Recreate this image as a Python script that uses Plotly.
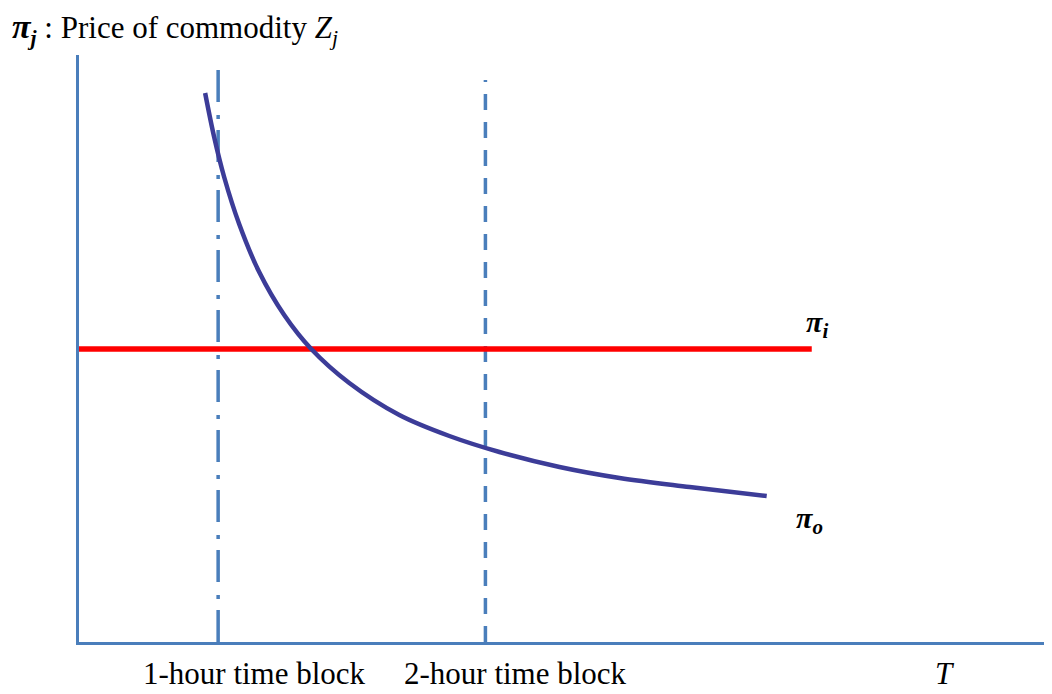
import plotly.graph_objects as go

# Axis units: x from 0 to 972, y from 0 to 587 (arbitrary time / price units)
X_MAX = 972
Y_MAX = 587

curve_x = [126, 135, 145, 160, 180, 205, 232, 270, 320, 370, 420, 480, 540, 610, 687]
curve_y = [549, 505, 465, 418, 370, 327, 293, 259, 227, 206, 190, 175, 164, 155, 146]

pi_i_x = [0, 732]
pi_i_y = [293, 293]

block1_x = 139
block1_top = 574
block2_x = 406
block2_top = 562

tick_labels = ["1-hour time block", "2-hour time block", "<i>T</i>"]
tick_pos = [175, 436, 865]

AXIS_COLOR = "#4A7EBB"
SERIF = "Liberation Serif, Times New Roman, serif"

fig = go.Figure()

fig.add_trace(go.Scatter(x=[block1_x, block1_x], y=[0, block1_top], mode="lines",
                         line=dict(color=AXIS_COLOR, width=3.5, dash="32px,11px,4px,13px"),
                         hoverinfo="skip", showlegend=False))
fig.add_trace(go.Scatter(x=[block2_x, block2_x], y=[0, block2_top], mode="lines",
                         line=dict(color=AXIS_COLOR, width=3.5, dash="16px,12px"),
                         hoverinfo="skip", showlegend=False))
fig.add_trace(go.Scatter(x=pi_i_x, y=pi_i_y, mode="lines",
                         line=dict(color="#FF0000", width=5.5),
                         hoverinfo="skip", showlegend=False))
fig.add_trace(go.Scatter(x=curve_x, y=curve_y, mode="lines",
                         line=dict(color="#3C3C98", width=4.5, shape="spline", smoothing=1.0),
                         hoverinfo="skip", showlegend=False))


def ann(x, y, text, size, xanchor="left"):
    return dict(x=x / X_MAX, y=y / Y_MAX, xref="paper", yref="paper",
                xanchor=xanchor, yanchor="middle", text=text, showarrow=False,
                font=dict(family=SERIF, size=size, color="black"))


annotations = [
    ann(-69, 613,
        "<span style='font-size:34px'><b><i>π</i></b></span><sub><b><i>j</i></b></sub>"
        " : Price of commodity <i>Z</i><sub><i>j</i></sub>", 31),
    ann(724, 318, "<b><i>π</i></b><sub><b><i>i</i></b></sub>", 30),
    ann(714, 122, "<b><i>π</i></b><sub><b><i>o</i></b></sub>", 30),
]
for lab, pos in zip(tick_labels, tick_pos):
    annotations.append(ann(pos, -31, lab, 31, xanchor="center"))

fig.update_layout(
    width=1044, height=686,
    margin=dict(l=71, r=0, t=47, b=52),
    paper_bgcolor="white", plot_bgcolor="white",
    xaxis=dict(range=[0, X_MAX], showgrid=False, zeroline=False, showticklabels=False,
               ticks="", showline=True, linecolor=AXIS_COLOR, linewidth=2.5, fixedrange=True),
    yaxis=dict(range=[0, Y_MAX], showgrid=False, zeroline=False, showticklabels=False,
               ticks="", showline=True, linecolor=AXIS_COLOR, linewidth=2.5, fixedrange=True),
    annotations=annotations,
)

fig.write_html("out.html")
